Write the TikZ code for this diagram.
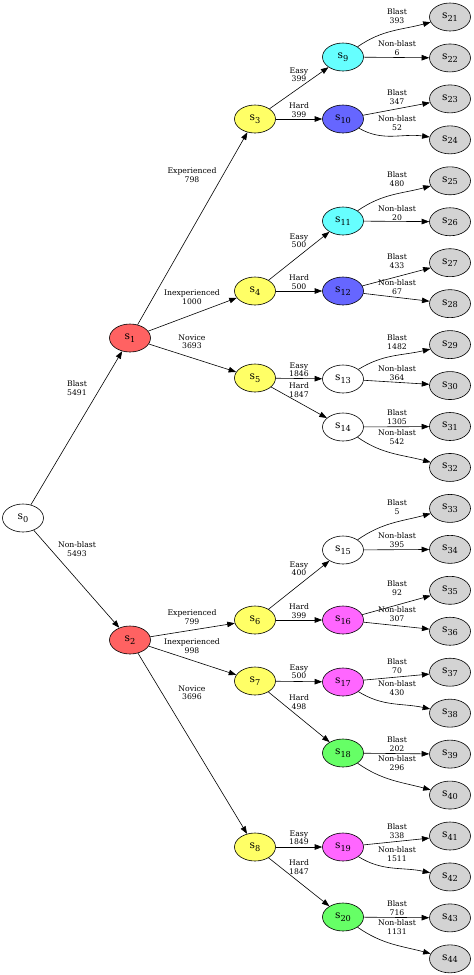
\documentclass[tikz,border=0pt]{standalone}
\usepackage{fontspec}
\setmainfont{DejaVu Serif}
\usetikzlibrary{arrows.meta,shapes.geometric}
\definecolor{cRed}{HTML}{FF6262}
\definecolor{cYel}{HTML}{FFFF66}
\definecolor{cCya}{HTML}{66FFFF}
\definecolor{cBlu}{HTML}{6666FF}
\definecolor{cMag}{HTML}{FF66FF}
\definecolor{cGre}{HTML}{66FF66}
\definecolor{cGry}{HTML}{D3D3D3}
\newcommand\sname[1]{{\fontsize{10.6}{12}\selectfont s}\raisebox{-2.6pt}{\fontsize{8.2}{9}\selectfont #1}}
\begin{document}
\begin{tikzpicture}[x=1pt,y=1pt,
 st/.style={draw,ellipse,minimum width=41pt,minimum height=28pt,inner sep=0pt,line width=.6pt},
 lb/.style={font=\fontsize{7.7}{8.4}\selectfont,align=center,inner sep=0pt},
 ar/.style={-{Triangle[length=7.5pt,width=5.5pt]},line width=.6pt}]
\useasboundingbox (0,0) rectangle (474,-975);
% states
\foreach \n/\x/\y/\c in {0/23/518/white, 1/130/338/cRed, 2/130/640/cRed,
 3/255/119/cYel, 4/255/291/cYel, 5/255/378/cYel, 6/255/620/cYel, 7/255/681/cYel, 8/255/847/cYel,
 9/343/57/cCya, 10/343/119/cBlu, 11/343/221/cCya, 12/343/291/cBlu, 13/343/379/white, 14/343/427/white,
 15/343/550/white, 16/343/620/cMag, 17/343/682/cMag, 18/343/753/cGre, 19/343/847/cMag, 20/343/917/cGre}
 \node[st,fill=\c] (s\n) at (\x,-\y) {\sname{\n}};
\foreach \n [evaluate=\n as \y using {17+40.95*(\n-21)}] in {21,...,44}
 \node[st,fill=cGry] (s\n) at (450,-\y) {\sname{\n}};
% edges
\foreach \a/\b in {0/1,0/2,1/3,1/4,1/5,2/6,2/7,2/8,3/9,3/10,4/11,4/12,5/13,5/14,6/15,6/16,7/17,7/18,8/19,8/20,
 9/22,10/23,11/26,12/27,12/28,13/30,14/31,15/34,16/35,16/36,17/37,18/39,19/41,20/43}
 \draw[ar] (s\a)--(s\b);
\foreach \a/\b/\o/\i in {9/21/35/195, 11/25/35/195, 13/29/32/193, 15/33/35/195, 10/24/-30/172,
 14/32/-35/165, 17/38/-32/168, 18/40/-35/165, 19/42/-32/168, 20/44/-35/165}
 \draw[ar] (s\a) to[out=\o,in=\i] (s\b);
% labels
\foreach \y/\t/\v [count=\k] in {388/Blast/5491, 549/Non-blast/5493}
 \node[lb] (lz\k) at (77,-\y) {\t\\\v};
\foreach \y/\t/\v [count=\k] in {175/Experienced/798, 297/Inexperienced/1000, 342/Novice/3693,
 617/Experienced/799, 646/Inexperienced/998, 693/Novice/3696}
 \node[lb] (lp\k) at (192,-\y) {\t\\\v};
\foreach \y/\v [count=\k] in {75/399, 241/500, 370/1846, 569/400, 672/500, 838/1849}
 \node[lb] (le\k) at (299,-\y) {Easy\\\v};
\foreach \y/\v [count=\k] in {110/399, 282/500, 390/1847, 611/399, 702/498, 867/1847}
 \node[lb] (lh\k) at (299,-\y) {Hard\\\v};
\foreach \y/\v [count=\k] in {16/393, 97/347, 179/480, 261/433, 342/1482, 417/1305,
 507/5, 588/92, 666/70, 744/202, 831/338, 908/716}
 \node[lb] (lb\k) at (397,-\y) {Blast\\\v};
\foreach \y/\v [count=\k] in {48/6, 123/52, 213/20, 287/67, 373/364, 437/542,
 540/395, 614/307, 688/430, 763/296, 854/1511, 927/1131}
 \node[lb] (ln\k) at (397,-\y) {Non-blast\\\v};
\end{tikzpicture}
\end{document}
